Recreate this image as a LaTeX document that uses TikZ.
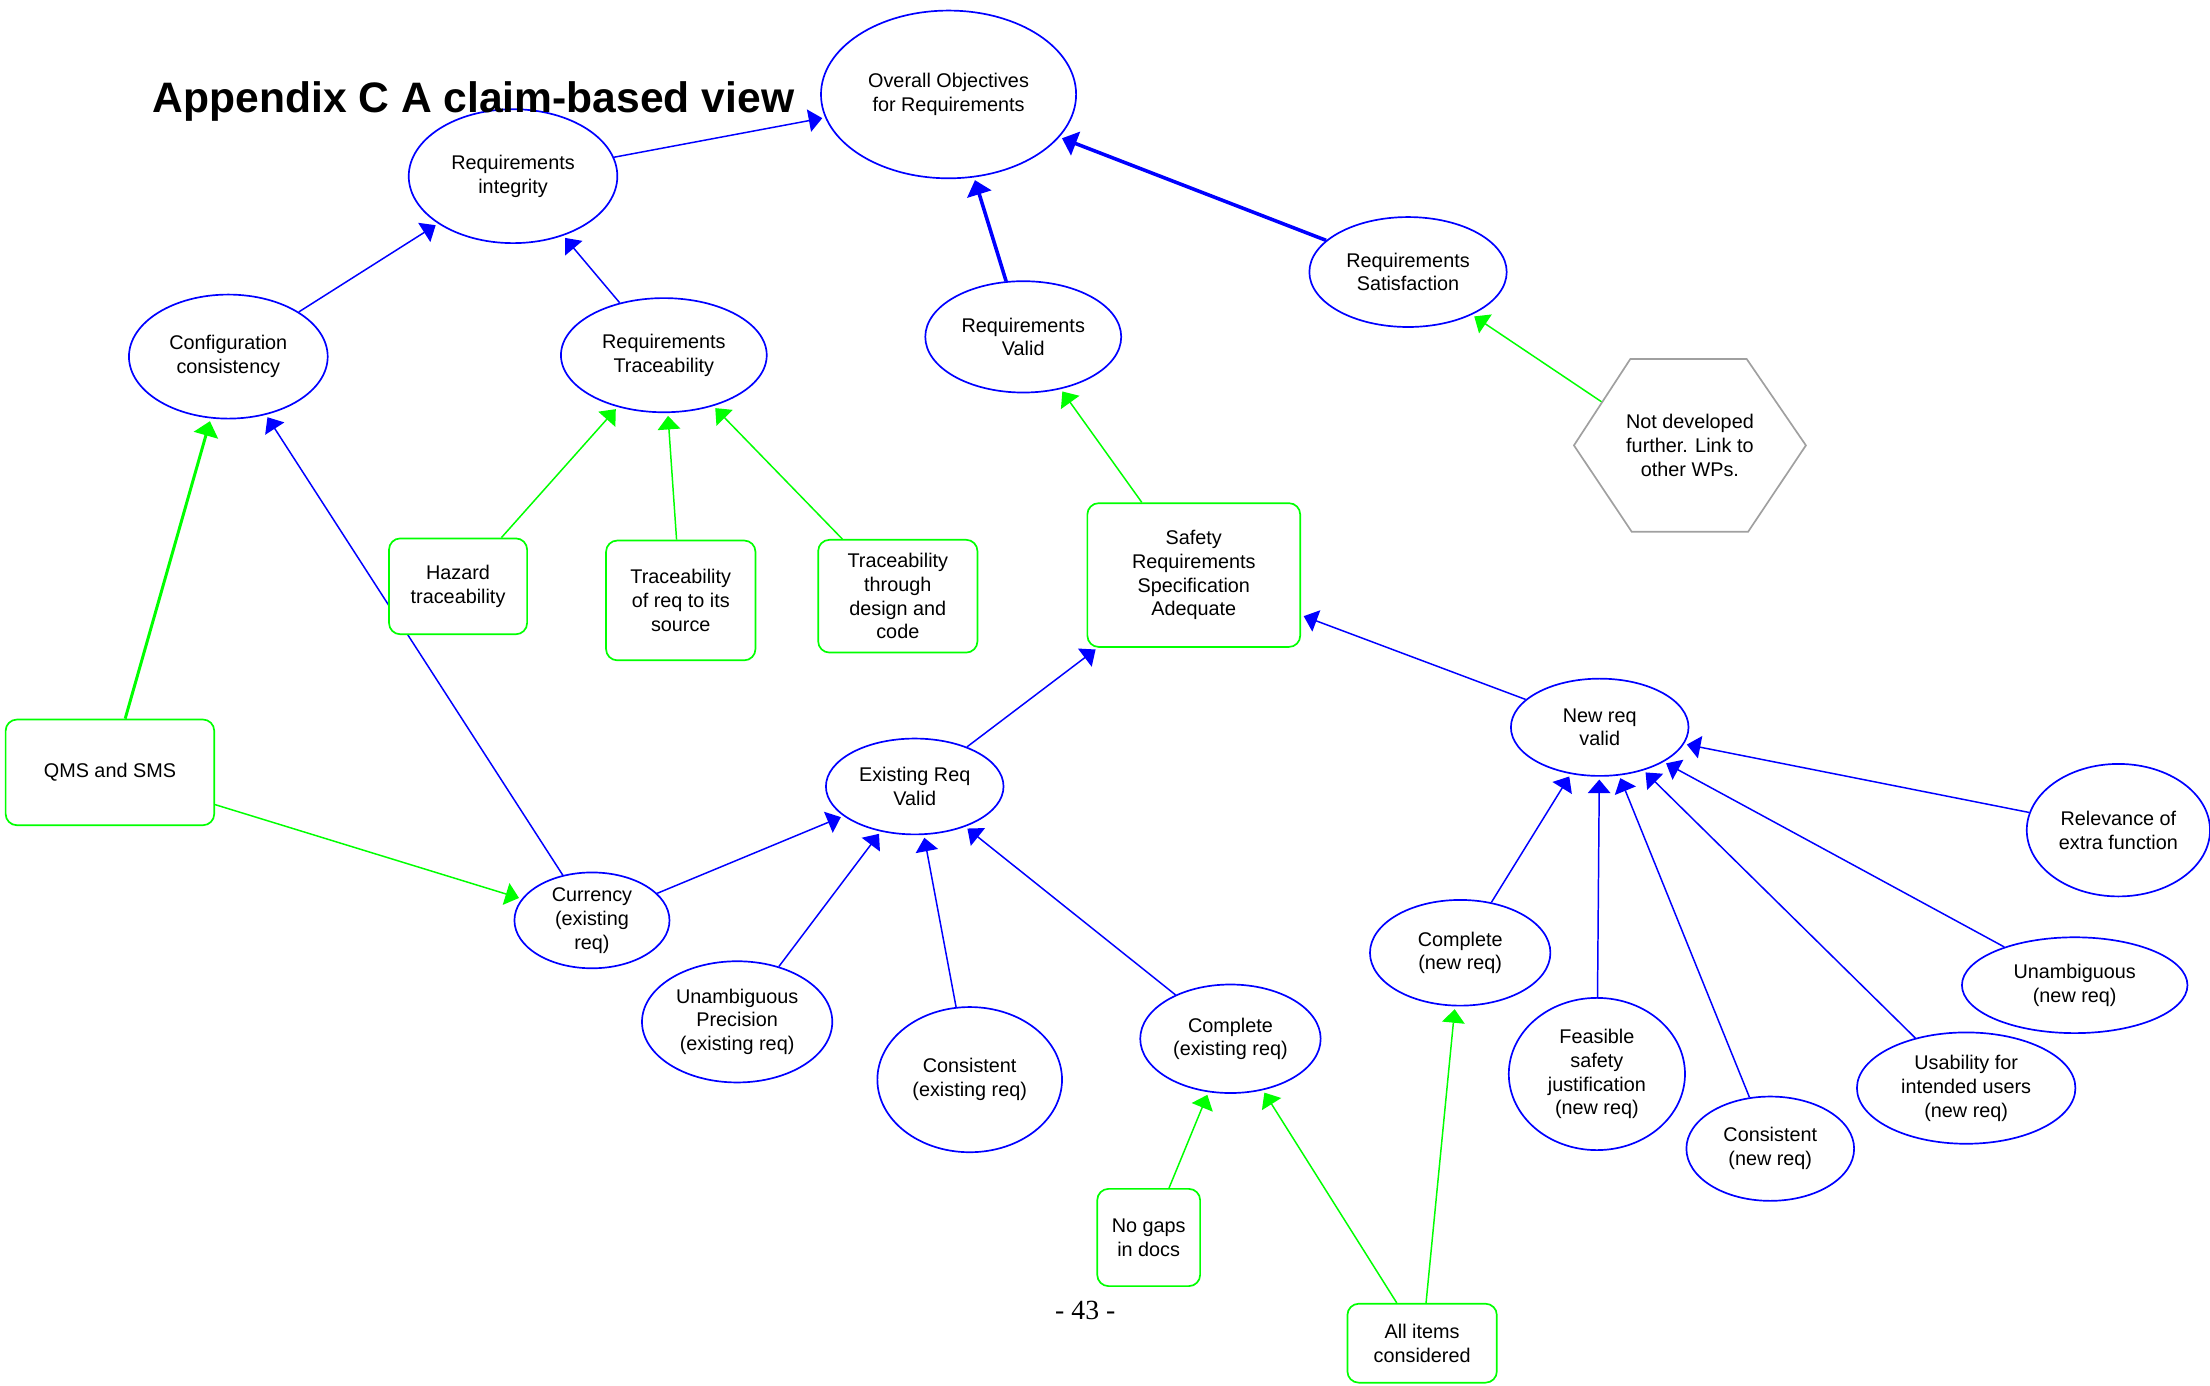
\documentclass[tikz,border=0pt]{standalone}
\usepackage{fontspec}
\setmainfont{Liberation Sans}
\newfontfamily\pagenumfont{Liberation Serif}
\usetikzlibrary{shapes.geometric,arrows.meta,calc,backgrounds}
\definecolor{evgreen}{RGB}{0,255,0}
\definecolor{hexgray}{RGB}{160,160,160}
\tikzset{
  claim/.style={ellipse, draw=blue, line width=.85pt, fill=white, align=center, inner sep=0pt, font=\fontsize{10}{12}\selectfont},
  evid/.style={rectangle, rounded corners=2mm, draw=evgreen, line width=.85pt, fill=white, align=center, inner sep=0pt, font=\fontsize{10}{12}\selectfont},
  supp/.style={draw=blue, line width=.75pt, -{Triangle[length=2.4mm,width=4mm]}, shorten >=.5mm},
  suppthick/.style={supp, line width=1.8pt, -{Triangle[length=2.6mm,width=4.4mm]}},
  evi/.style={draw=evgreen, line width=.75pt, -{Triangle[length=2.4mm,width=4mm]}, shorten >=.5mm},
  evithick/.style={evi, line width=1.5pt, -{Triangle[length=2.6mm,width=4.4mm]}}
}
\begin{document}
\begin{tikzpicture}[x=.25mm, y=-.25mm]
\useasboundingbox (0,0) rectangle (1568,983);
\node[claim, minimum width=45.25mm, minimum height=29.75mm] (obj) at (673,67) {Overall Objectives\\for Requirements};
\node[claim, minimum width=37mm, minimum height=23.75mm] (integ) at (364,125) {Requirements\\integrity};
\node[claim, minimum width=35.25mm, minimum height=22mm] (confc) at (162,253) {Configuration\\consistency};
\node[claim, minimum width=36.5mm, minimum height=20.25mm] (trace) at (471,252) {Requirements\\Traceability};
\node[claim, minimum width=34.75mm, minimum height=19.75mm] (valid) at (726,239) {Requirements\\Valid};
\node[claim, minimum width=35mm, minimum height=19.5mm] (satis) at (999,193) {Requirements\\Satisfaction};
\node[align=center, inner sep=0pt, minimum width=41mm, minimum height=30.5mm, font=\fontsize{10}{12}\selectfont] (hex) at (1199,316) {Not developed\\further. Link to\\other WPs.};
\path ($(hex.north west)+(40,0)$) coordinate (hexnw) ($(hex.north east)+(-42,0)$) coordinate (hexne)
  ($(hex.south east)+(-41,0)$) coordinate (hexse) ($(hex.south west)+(41,0)$) coordinate (hexsw);
\draw[hexgray, line width=.85pt] (hex.west) -- (hexnw) -- (hexne) -- (hex.east) -- (hexse) -- (hexsw) -- cycle;
\node[evid, minimum width=37.75mm, minimum height=25.5mm] (sra) at (847,408) {Safety\\Requirements\\Specification\\Adequate};
\node[evid, minimum width=24.5mm, minimum height=17mm] (hazard) at (325,416) {Hazard\\traceability};
\node[evid, minimum width=26.5mm, minimum height=21.25mm] (source) at (483,426) {Traceability\\of req to its\\source};
\node[evid, minimum width=28.25mm, minimum height=20mm] (design) at (637,423) {Traceability\\through\\design and\\code};
\node[evid, minimum width=37mm, minimum height=18.75mm] (qms) at (78,548) {QMS and SMS};
\node[claim, minimum width=31.5mm, minimum height=17mm] (exist) at (649,558) {Existing Req\\Valid};
\node[claim, minimum width=27.5mm, minimum height=17mm] (curr) at (420,653) {Currency\\(existing\\req)};
\node[claim, minimum width=33.75mm, minimum height=21.5mm] (unamex) at (523,725) {Unambiguous\\Precision\\(existing req)};
\node[claim, minimum width=32.75mm, minimum height=25.75mm] (consex) at (688,766) {Consistent\\(existing req)};
\node[claim, minimum width=32mm, minimum height=19.25mm] (compex) at (873,737) {Complete\\(existing req)};
\node[evid, minimum width=18.25mm, minimum height=17.25mm] (nogaps) at (815,878) {No gaps\\in docs};
\node[evid, minimum width=26.5mm, minimum height=14mm] (allitems) at (1009,953) {All items\\considered};
\node[claim, minimum width=31.5mm, minimum height=17.25mm] (newreq) at (1135,516) {New req\\valid};
\node[claim, minimum width=32.5mm, minimum height=23.5mm] (relev) at (1503,589) {Relevance of\\extra function};
\node[claim, minimum width=32mm, minimum height=18.75mm] (compnew) at (1036,676) {Complete\\(new req)};
\node[claim, minimum width=31.25mm, minimum height=27mm] (feas) at (1133,762) {Feasible\\safety\\justification\\(new req)};
\node[claim, minimum width=29.75mm, minimum height=18.5mm] (consnew) at (1256,815) {Consistent\\(new req)};
\node[claim, minimum width=38.75mm, minimum height=19.75mm] (usab) at (1395,772) {Usability for\\intended users\\(new req)};
\node[claim, minimum width=40mm, minimum height=17mm] (unamnew) at (1472,699) {Unambiguous\\(new req)};
\begin{scope}[on background layer]
\draw[supp] (integ) -- (obj);
\draw[supp] (confc) -- (integ);
\draw[supp] (trace) -- (integ);
\draw[suppthick] (valid) -- (obj);
\draw[suppthick] (satis) -- (obj);
\draw[evi] ($(hex.west)!.5!(hexnw)$) -- (satis);
\draw[evi] (sra) -- (valid);
\draw[evi] (hazard) -- (trace);
\draw[evi] (source) -- (trace);
\draw[evi] (design) -- (trace);
\draw[evithick] (qms) -- (confc);
\draw[evi] (qms) -- (curr);
\draw[supp] (curr) -- (confc);
\draw[supp] (exist) -- (sra);
\draw[supp] (newreq) -- (sra);
\draw[supp] (curr) -- (exist);
\draw[supp] (unamex) -- (exist);
\draw[supp] (consex) -- (exist);
\draw[supp] (compex) -- (exist);
\draw[evi] (nogaps) -- (compex);
\draw[evi] (allitems) -- (compex);
\draw[evi] (allitems) -- (compnew);
\foreach \sub in {compnew,feas,consnew,usab,unamnew,relev}
  \draw[supp] (\sub) -- (newreq);
\end{scope}
\node[anchor=base west, inner sep=0pt, font=\fontsize{21.5}{25}\selectfont\bfseries] (title) at (108,80) {Appendix C A claim-based view};
\node[inner sep=0pt, font=\pagenumfont\fontsize{14}{16}\selectfont] (pagenum) at (770,930) {- 43 -};
\end{tikzpicture}
\end{document}
